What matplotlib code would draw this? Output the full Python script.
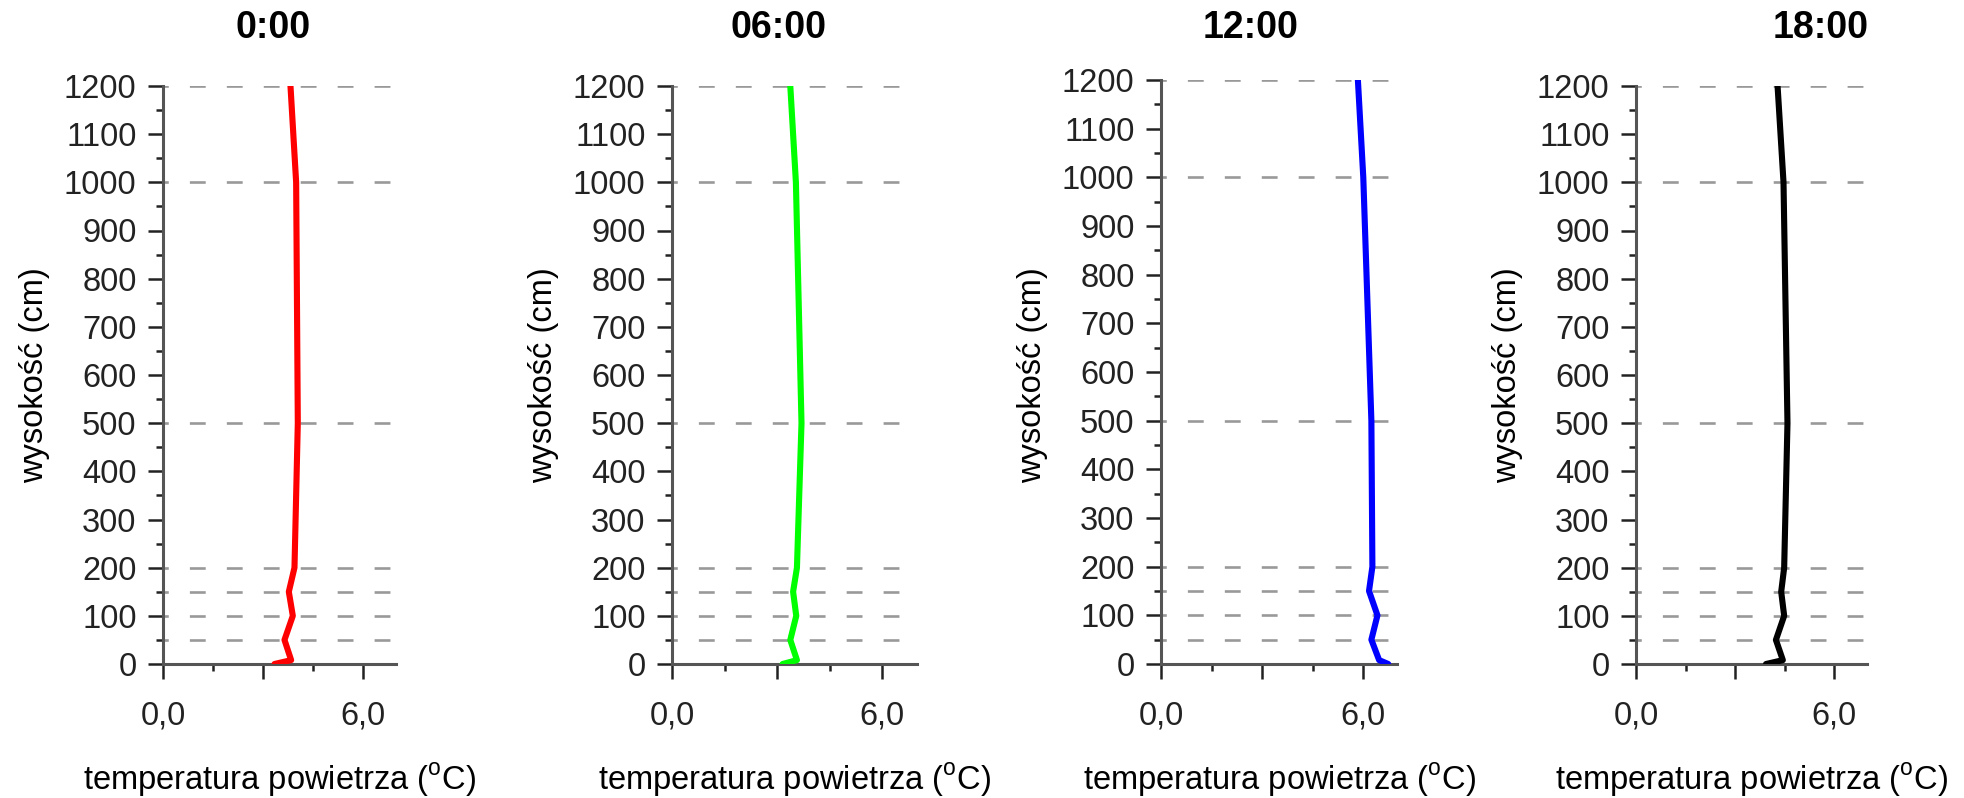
import numpy as np
import matplotlib
matplotlib.use("Agg")
import matplotlib.pyplot as plt
from matplotlib.ticker import MultipleLocator, FixedLocator

plt.rcParams['font.family'] = ['Liberation Sans', 'DejaVu Sans']
plt.rcParams['mathtext.fontset'] = 'custom'
plt.rcParams['mathtext.rm'] = 'Liberation Sans'

# Data
heights = [0, 8, 50, 100, 150, 200, 500, 1000, 1200]
grid_heights = [50, 100, 150, 200, 500, 1000, 1200]
titles = ['0:00', '06:00', '12:00', '18:00']
colors = ['#ff0000', '#00ff00', '#0000ff', '#000000']
t00 = [3.35, 3.85, 3.65, 3.90, 3.78, 3.95, 4.05, 4.00, 3.83]
t06 = [3.16, 3.57, 3.38, 3.55, 3.46, 3.57, 3.70, 3.54, 3.38]
t12 = [6.74, 6.47, 6.24, 6.42, 6.17, 6.27, 6.24, 6.00, 5.84]
t18 = [3.94, 4.45, 4.24, 4.49, 4.40, 4.49, 4.59, 4.47, 4.29]
series = [t00, t06, t12, t18]
xtick_labels = ['0,0', '', '6,0']

W, H = 1964, 798
fig = plt.figure(figsize=(W / 100, H / 100), dpi=100)

# panel boxes in pixels: left, width, top, bottom
boxes = [(163, 233, 86, 664), (672, 245, 86, 664),
         (1161, 236, 80, 664), (1636, 231, 86, 664)]
title_x = [273, 779, 1251, 1821]

axis_col = '#555555'
for i, (l, w, t, b) in enumerate(boxes):
    ax = fig.add_axes([l / W, (H - b) / H, w / W, (b - t) / H])
    for y in grid_heights:
        ax.axhline(y, color='#999999', lw=1.9, ls=(4, (6, 8)), zorder=1)
    ax.plot(series[i], heights, color=colors[i], lw=4.4,
            solid_joinstyle='round', solid_capstyle='round', zorder=3)
    ax.set_xlim(0, 7)
    ax.set_ylim(0, 1200)
    for s in ['top', 'right']:
        ax.spines[s].set_visible(False)
    for s in ['left', 'bottom']:
        ax.spines[s].set_color(axis_col)
        ax.spines[s].set_linewidth(2.2)
    ax.xaxis.set_major_locator(FixedLocator([0, 3, 6]))
    ax.set_xticklabels(xtick_labels)
    ax.xaxis.set_minor_locator(FixedLocator([1.5, 4.5]))
    ax.yaxis.set_major_locator(MultipleLocator(100))
    ax.yaxis.set_minor_locator(MultipleLocator(50))
    ax.tick_params(axis='both', which='major', labelsize=23.5, colors='#222222',
                   width=1.8, length=11, direction='out')
    ax.tick_params(axis='both', which='minor', width=1.8, length=5,
                   direction='out', colors='#222222')
    ax.tick_params(axis='x', which='major', pad=15)
    ax.tick_params(axis='y', which='major', pad=8)
    ax.patch.set_alpha(0)

    fig.text(title_x[i] / W, (H - 28) / H, titles[i], fontsize=27,
             fontweight='bold', ha='center', va='center')
    fig.text((l + w / 2) / W, (H - 780) / H,
             r'temperatura powietrza ($^{\mathrm{o}}$C)', fontsize=23.5,
             ha='center', va='center')
    fig.text((l - 128) / W, (H - 375) / H, 'wysokość (cm)', fontsize=23.5,
             rotation=90, ha='center', va='center')

fig.savefig('out.png', dpi=100)
